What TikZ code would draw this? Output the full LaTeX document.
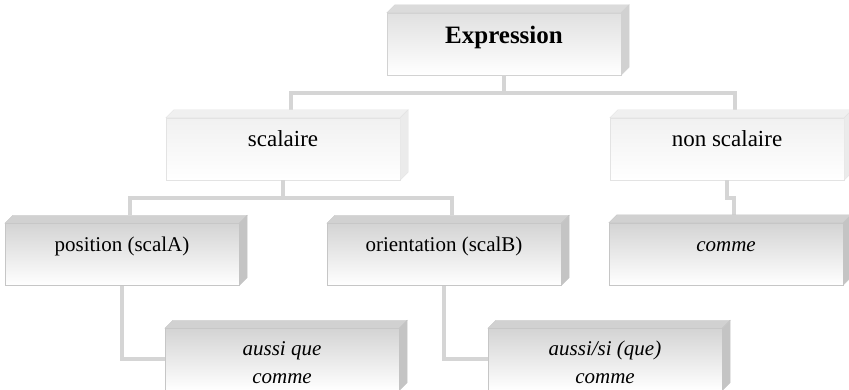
\documentclass[tikz,border=0pt]{standalone}
\usepackage{fontspec}
\setmainfont{Liberation Serif}
\usepackage{tikz}
\usetikzlibrary{positioning, calc}

\tikzset{
  box/.style={draw=gray!45, top color=gray!34, bottom color=white,
    minimum width=234pt, minimum height=62pt, inner sep=0pt,
    text height=15pt, text depth=20pt, font=\fontsize{21}{28}\selectfont},
  lightbox/.style={box, draw=gray!22, top color=gray!11, text depth=19pt,
    font=\fontsize{23}{28}\selectfont},
  twoline/.style={box, align=center, text height=52pt, text depth=4pt,
    font=\fontsize{21}{28}\selectfont\itshape},
  conn/.style={draw=gray!33, line width=4pt},
}

\begin{document}
\begin{tikzpicture}[x=1pt, y=1pt]
\useasboundingbox (0,0) rectangle (849,390);

% boxes
\node[box, top color=gray!24, draw=gray!35, text height=17pt, text depth=18pt,
  font=\fontsize{25}{30}\selectfont\bfseries] (expr) at (504,346) {Expression};
\node[lightbox] (scal) at (283,241) {scalaire};
\node[lightbox] (nonscal) at (727,241) {non scalaire};
\node[box] (pos) at (122,135.5) {position (scalA)};
\node[box] (orient) at (444,135.5) {orientation (scalB)};
\node[box, font=\fontsize{21}{28}\selectfont\itshape] (comme) at (726,136) {comme};
\node[twoline] (aussique) at (282,30.5) {aussi que\\comme};
\node[twoline] (aussisi) at (605,30.5) {aussi/si (que)\\comme};

% connectors
\draw[conn] (expr.south) -- ++(0,-17.5) coordinate (j0);
\draw[conn] ([shift={(8,8)}]scal.north) |- (j0) -| ([shift={(8,8)}]nonscal.north);
\draw[conn] (scal.south) -- ++(0,-17.5) coordinate (j1);
\draw[conn] ([shift={(8,8)}]pos.north) |- (j1) -| ([shift={(8,8)}]orient.north);
\draw[conn] (nonscal.south) -- ++(0,-18) -| ([shift={(8,8)}]comme.north);
\draw[conn] (pos.south) |- (aussique.west);
\draw[conn] (orient.south) |- (aussisi.west);

% top and side faces
\foreach \n/\t/\s/\e in {expr/28/36/35, scal/12/16/22, nonscal/12/16/22,
    pos/36/46/45, orient/36/46/45, comme/36/46/45, aussique/36/46/45, aussisi/36/46/45} {
  \filldraw[draw=gray!\e, fill=gray!\t] (\n.north west) -- ++(8,8)
    -- ([shift={(8,8)}]\n.north east) -- (\n.north east) -- cycle;
  \filldraw[draw=gray!\e, fill=gray!\s] (\n.north east) -- ++(8,8)
    -- ([shift={(8,8)}]\n.south east) -- (\n.south east) -- cycle;
}
\end{tikzpicture}
\end{document}
